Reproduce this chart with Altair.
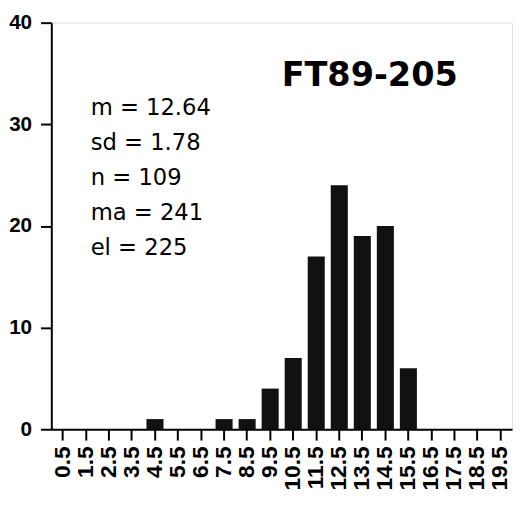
import altair as alt
import pandas as pd

bins = ["0.5", "1.5", "2.5", "3.5", "4.5", "5.5", "6.5", "7.5", "8.5", "9.5",
        "10.5", "11.5", "12.5", "13.5", "14.5", "15.5", "16.5", "17.5", "18.5", "19.5"]
counts = [0, 0, 0, 0, 1, 0, 0, 1, 1, 4, 7, 17, 24, 19, 20, 6, 0, 0, 0, 0]
stats_lines = ["m = 12.64", "sd = 1.78", "n = 109", "ma = 241", "el = 225"]
sample_label = "FT89-205"
y_ticks = [0, 10, 20, 30, 40]

df = pd.DataFrame({"bin": bins, "count": counts})
one = pd.DataFrame({"k": [0]})

x_enc = alt.X("bin:N", sort=bins, title=None,
              scale=alt.Scale(paddingInner=0.26, paddingOuter=0.13),
              axis=alt.Axis(labelAngle=-90, labelFontSize=23, labelFont="Liberation Sans",
                            labelFontWeight="bold", labelColor="black", tickSize=11,
                            tickWidth=2, tickColor="black", domainColor="black",
                            domainWidth=2, labelPadding=6, grid=False, labelOverlap=False))
y_enc = alt.Y("count:Q", title=None,
              scale=alt.Scale(domain=[0, 40], nice=False),
              axis=alt.Axis(values=y_ticks, labelFontSize=21, labelFont="Liberation Sans",
                            labelFontWeight="bold", labelColor="black", tickSize=11,
                            tickWidth=2, tickColor="black", domainColor="black",
                            domainWidth=2, labelPadding=9, grid=False))

bars = alt.Chart(df).mark_bar(color="#111111").encode(x=x_enc, y=y_enc)

stats = alt.Chart(one).mark_text(
    text=stats_lines, align="left", baseline="alphabetic", lineHeight=35.5,
    font="DejaVu Sans", fontSize=23, color="black"
).encode(x=alt.value(40), y=alt.value(94))

title = alt.Chart(one).mark_text(
    text=sample_label, align="left", baseline="alphabetic",
    font="DejaVu Sans", fontSize=34, fontWeight="bold", color="black"
).encode(x=alt.value(234), y=alt.value(64))

chart = alt.layer(bars, stats, title).properties(
    width=468, height=413,
    autosize=alt.AutoSizeParams(type="none"),
    padding={"left": 44, "top": 11, "right": 3, "bottom": 70},
).configure_view(stroke="black", strokeWidth=2).configure(background="white")

chart.save("out.html", embed_options={"renderer": "svg", "actions": False})
